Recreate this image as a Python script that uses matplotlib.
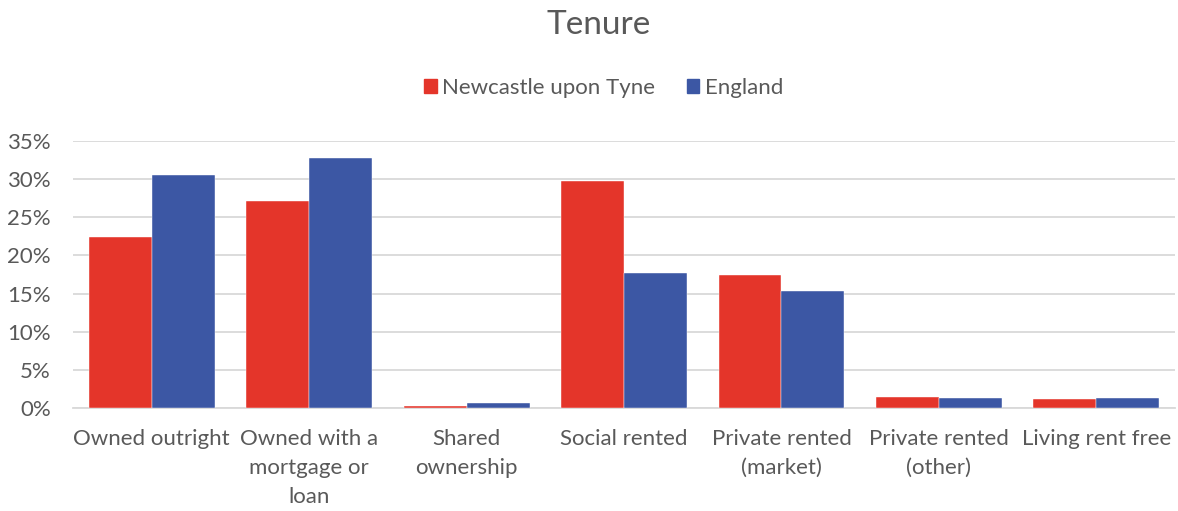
import matplotlib
matplotlib.use("Agg")
import matplotlib.pyplot as plt
import numpy as np
from matplotlib.patches import Patch

categories = ["Owned outright", "Owned with a\nmortgage or\nloan", "Shared\nownership",
              "Social rented", "Private rented\n(market)", "Private rented\n(other)",
              "Living rent free"]
newcastle = [0.2236, 0.2707, 0.0035, 0.2973, 0.1739, 0.0154, 0.0127]
england = [0.3056, 0.3278, 0.0068, 0.1765, 0.1534, 0.0136, 0.0132]
yticks = [0, 0.05, 0.10, 0.15, 0.20, 0.25, 0.30, 0.35]
ytick_labels = ["0%", "5%", "10%", "15%", "20%", "25%", "30%", "35%"]
series_names = ["Newcastle upon Tyne", "England"]

RED = "#E4352A"
BLUE = "#3C57A4"
TXT = "#595959"
GRID = "#D9D9D9"
FONT = ["Lato", "DejaVu Sans"]

plt.rcParams['font.family'] = FONT

fig = plt.figure(figsize=(11.78, 5.11), dpi=100)
ax = fig.add_axes([0.062, 0.2006, 0.9355, 0.5241])

x = np.arange(len(categories))
w = 0.4
ax.bar(x - w/2, newcastle, width=w, color=RED, edgecolor="white", linewidth=0.3, zorder=3)
ax.bar(x + w/2, england, width=w, color=BLUE, edgecolor="white", linewidth=0.3, zorder=3)

ax.set_xlim(-0.5, len(categories) - 0.5)
ax.set_ylim(0, 0.35)
ax.set_yticks(yticks)
ax.set_yticklabels(ytick_labels)
ax.set_xticks(x)
ax.set_xticklabels(categories, linespacing=1.55)
ax.tick_params(axis='y', length=0, pad=16, labelsize=16, labelcolor=TXT)
ax.tick_params(axis='x', length=0, pad=15, labelsize=16, labelcolor=TXT)
ax.grid(axis='y', color=GRID, linewidth=1.3, zorder=0)
for s in ["top", "right", "left"]:
    ax.spines[s].set_visible(False)
ax.spines["bottom"].set_color(GRID)
ax.spines["bottom"].set_linewidth(1.3)
ax.spines["bottom"].set_zorder(2)

fig.text(0.5085, 1 - 25/511, "Tenure", ha="center", va="center", fontsize=24, color=TXT)

handles = [Patch(facecolor=RED, edgecolor=RED), Patch(facecolor=BLUE, edgecolor=BLUE)]
fig.legend(handles, series_names, loc="center", bbox_to_anchor=(0.5125, 1 - 88/511), ncol=2,
           frameon=False, fontsize=16, labelcolor=TXT, handlelength=0.58, handleheight=0.58,
           handletextpad=0.25, columnspacing=1.4)

fig.savefig("out.png", dpi=100)
